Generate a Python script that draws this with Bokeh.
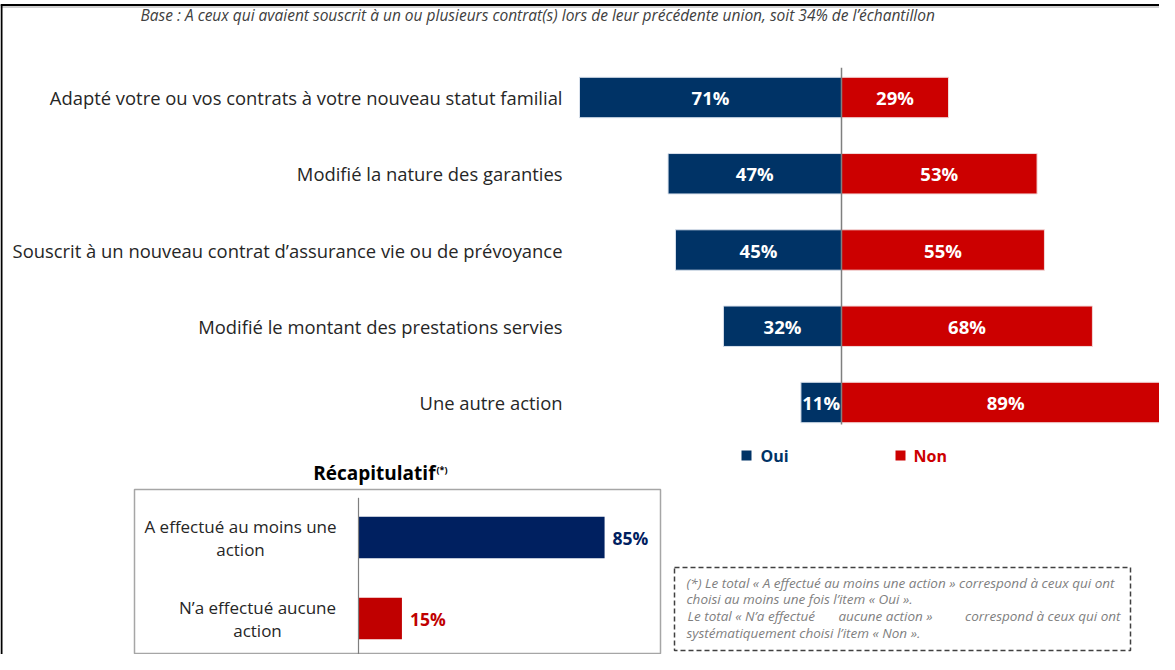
from bokeh.plotting import figure
from bokeh.models import Range1d
from bokeh.embed import file_html
from bokeh.resources import INLINE
from bokeh.core.properties import value

# ---------------- data ----------------
header = ("Base : A ceux qui avaient souscrit à un ou plusieurs contrat(s) lors de leur "
          "précédente union, soit 34% de l’échantillon")
categories = [
    "Adapté votre ou vos contrats à votre nouveau statut familial",
    "Modifié la nature des garanties",
    "Souscrit à un nouveau contrat d’assurance vie ou de prévoyance",
    "Modifié le montant des prestations servies",
    "Une autre action",
]
oui = [71, 47, 45, 32, 11]
non = [29, 53, 55, 68, 89]
series = ["Oui", "Non"]

recap_title = "Récapitulatif"
recap_categories = ["A effectué au moins une\naction", "N’a effectué aucune\naction"]
recap_values = [85, 15]

footnote_lines = [
    " (*) Le total « A effectué au moins une action » correspond à ceux qui ont",
    "choisi au moins une fois l’item « Oui ».",
    "Le total « N’a effectué aucune action » correspond à ceux qui ont",
    "systématiquement choisi l’item « Non ».",
]

# ---------------- style ----------------
NAVY = "#003366"
RED = "#cc0000"
NAVY2 = "#002060"
RED2 = "#c00000"
TXT = "#262626"
FONT = value("Open Sans")

W, H = 1159, 654

p = figure(width=W, height=H, x_range=Range1d(0, W), y_range=Range1d(H, 0),
           x_axis_type=None, y_axis_type=None, min_border=0,
           toolbar_location=None, output_backend="svg")
p.outline_line_color = None
p.grid.visible = False
p.background_fill_color = "white"

# scales for the main diverging chart
PX = 3.69
CX = 841
ROW0, STEP = 97, 76.25
p.extra_x_ranges["main"] = Range1d(-CX / PX, (W - CX) / PX)
p.extra_y_ranges["main"] = Range1d(start=(H - ROW0) / STEP, end=-ROW0 / STEP)

# scales for the recap chart
RPX = 2.895
RCX = 358
RROW0, RSTEP = 537, 81
p.extra_x_ranges["recap"] = Range1d(-RCX / RPX, (W - RCX) / RPX)
p.extra_y_ranges["recap"] = Range1d(start=(H - RROW0) / RSTEP, end=-RROW0 / RSTEP)

M = dict(x_range_name="main", y_range_name="main")
R = dict(x_range_name="recap", y_range_name="recap")

idx = list(range(len(categories)))

# page frame
p.line(x=[0, W], y=[4.5, 4.5], line_color="black", line_width=2)
p.line(x=[0, W], y=[6.5, 6.5], line_color="#a0a0a0", line_width=1)
p.line(x=[1, 1], y=[4, H], line_color="black", line_width=2)

# header
p.text(x=[140], y=[14], text=[header], text_font=FONT, text_font_style="italic",
       text_font_size="15.5px", text_color="#404040", text_baseline="middle")

# main bars
p.hbar(y=idx, left=[-v for v in oui], right=0, height=0.53, fill_color=NAVY,
       line_color="#d9e1ec", line_width=1, **M)
p.hbar(y=idx, left=0, right=non, height=0.53, fill_color=RED,
       line_color="#f2d9d9", line_width=1, **M)
p.line(x=[0, 0], y=[-0.39, 4.29], line_color="#7f7f7f", line_width=1.5, **M)

p.text(x=[-v / 2 for v in oui], y=idx, text=[f"{v}%" for v in oui], text_font=FONT,
       text_font_style="bold", text_font_size="18.5px", text_color="white",
       text_align="center", text_baseline="middle", **M)
p.text(x=[v / 2 for v in non], y=idx, text=[f"{v}%" for v in non], text_font=FONT,
       text_font_style="bold", text_font_size="18.5px", text_color="white",
       text_align="center", text_baseline="middle", **M)

# category labels
p.text(x=[(570 - 849) / PX] * len(categories), y=idx, text=categories, text_font=FONT,
       text_font_size="18.4px", text_color=TXT, text_align="right",
       text_baseline="middle", **M)

# legend
p.rect(x=[746, 900], y=[455, 455], width=10, height=10,
       fill_color=[NAVY, RED], line_color=None)
p.text(x=[760, 913], y=[455, 455], text=series, text_font=FONT, text_font_style="bold",
       text_font_size="16px", text_color=[NAVY, RED], text_baseline="middle")

# recap title
p.text(x=[435], y=[472], text=[recap_title], text_font=FONT, text_font_style="bold",
       text_font_size="19px", text_color="black", text_align="right",
       text_baseline="middle")
p.text(x=[436], y=[469], text=["(*)"], text_font=FONT, text_font_style="bold",
       text_font_size="9px", text_color="black", text_baseline="middle")

# recap box
p.quad(left=[134], right=[660], top=[489], bottom=[653], fill_color=None,
       line_color="#a6a6a6", line_width=1.5)

ridx = list(range(len(recap_values)))
p.hbar(y=ridx, left=0, right=recap_values, height=0.51,
       fill_color=[NAVY2, RED2], line_color=None, **R)
p.line(x=[0, 0], y=[-0.49, 1.45], line_color="#7f7f7f", line_width=1.2, **R)
p.text(x=recap_values, y=ridx, x_offset=8, text=[f"{v}%" for v in recap_values],
       text_font=FONT, text_font_style="bold", text_font_size="17.5px",
       text_color=[NAVY2, RED2], text_baseline="middle", **R)
label_centers = [(248 - 366) / RPX, (265 - 366) / RPX]
p.text(x=label_centers, y=ridx, text=recap_categories, text_font=FONT,
       text_font_size="17px", text_color=TXT, text_align="center",
       text_baseline="middle", text_line_height=1.0, **R)

# footnote
p.quad(left=[674], right=[1130], top=[567], bottom=[650], fill_color=None,
       line_color="#404040", line_width=1.5, line_dash="5 3")
FN = dict(text_font=FONT, text_font_style="italic", text_font_size="13.5px",
          text_color="#7f7f7f", text_baseline="middle")
p.text(x=[686, 686, 686], y=[582, 598, 632],
       text=[footnote_lines[0], footnote_lines[1], footnote_lines[3]], **FN)
# justified third line, approximated with three pieces (left / centre / right)
w3 = footnote_lines[2].split(" ")
pieces = [" ".join(w3[:5]), " ".join(w3[5:8]), " ".join(w3[8:])]
p.text(x=[687, 885, 1120], y=[615, 615, 615], text=pieces,
       text_align=["left", "center", "right"], **FN)

open("out.html", "w").write(file_html(p, INLINE))
